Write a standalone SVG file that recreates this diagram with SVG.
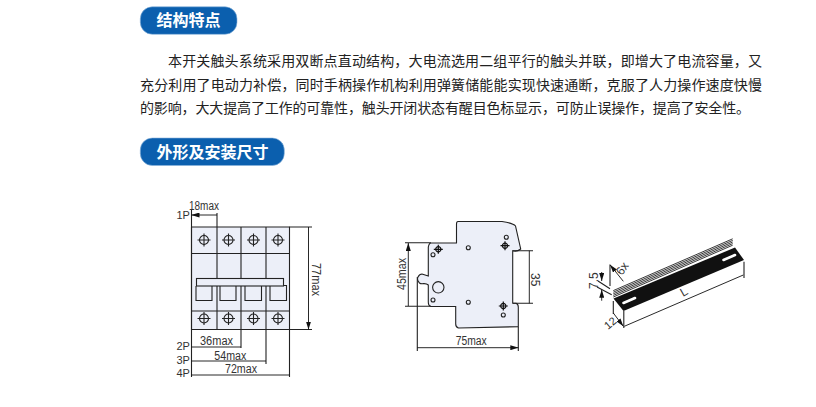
<svg xmlns="http://www.w3.org/2000/svg" width="816" height="407" viewBox="0 0 816 407">
<defs>
<marker id="a" viewBox="0 0 8 5" refX="8" refY="2.500" markerWidth="8" markerHeight="5" markerUnits="userSpaceOnUse" orient="auto-start-reverse"><path d="M0 0L8 2.500L0 5Z" fill="#111"/></marker>
<marker id="e" viewBox="0 0 8 5" refX="8" refY="2.500" markerWidth="8" markerHeight="5" markerUnits="userSpaceOnUse" orient="auto"><path d="M0 0L8 2.500L0 5Z" fill="#111"/></marker>
<g id="t"><circle r="4.500" fill="none" stroke="#222" stroke-width="1.100"/><path d="M-6.500 0H6.500M0-6.500V6.500" stroke="#222" stroke-width="1.100"/></g>
<g id="t2"><circle r="2.600" fill="none" stroke="#111" stroke-width="1.200"/><path d="M-4.500 0H4.500M0-4.500V4.500" stroke="#111" stroke-width="1.200"/></g>
</defs>
<style>
.h{fill:#0b5fae;stroke:#8ab4dc;stroke-width:.6}
.ht{font:bold 16px "Noto Sans CJK SC",sans-serif;fill:#fff}
.p{font:14px "Noto Sans CJK SC",sans-serif;fill:#222}
.l{font:12px "Liberation Sans",sans-serif;fill:#333}
.q{font:11px "Liberation Sans",sans-serif;fill:#333}
.s{fill:none;stroke:#222;stroke-width:1.100}
.d{fill:none;stroke:#111;stroke-width:.9;marker-start:url(#a);marker-end:url(#a)}
.o{fill:none;stroke:#111;stroke-width:.9;marker-end:url(#e)}
.b{fill:#eceff8}
</style>
<rect width="816" height="407" fill="#fff"/>
<g id="head1"><rect class="h" x="140.300" y="6.800" width="96.700" height="27.500" rx="12"/><text class="ht" x="156.500" y="26">结构特点</text></g>
<g id="para" class="p">
<text x="168" y="65.500" textLength="594">本开关触头系统采用双断点直动结构，大电流选用二组平行的触头并联，即增大了电流容量，又</text>
<text x="140" y="90" textLength="622">充分利用了电动力补偿，同时手柄操作机构利用弹簧储能能实现快速通断，克服了人力操作速度快慢</text>
<text x="140" y="113" textLength="610">的影响，大大提高了工作的可靠性，触头开闭状态有醒目色标显示，可防止误操作，提高了安全性。</text>
</g>
<g id="head2"><rect class="h" x="140.300" y="138" width="144" height="27.500" rx="12"/><text class="ht" x="156.500" y="158">外形及安装尺寸</text></g>

<g id="breaker">
<rect class="b" x="191.500" y="227" width="98" height="102.500"/>
<path class="s" d="M191.500 227H289.500V329.500H191.500ZM191.500 253.500H289.500M191.500 311H289.500M217 227V278M241 227V278M266 227V278M217 286V329.500M241 286V329.500M266 286V329.500"/>
<path class="s" d="M196 286V300.500H212V286M220 286V300.500H236V286M245 286V300.500H261.500V286M270 286V300.500H286.500V285.500H283.500"/>
<rect x="196.500" y="278.500" width="87" height="7.500" fill="#eceff8" stroke="#222" stroke-width="1.100"/>
<use href="#t" x="204" y="240"/><use href="#t" x="228.500" y="240"/><use href="#t" x="253.500" y="240"/><use href="#t" x="278" y="240"/>
<use href="#t" x="204" y="318.500"/><use href="#t" x="228.500" y="318.500"/><use href="#t" x="253.500" y="318.500"/><use href="#t" x="278" y="318.500"/>
<path class="s" d="M191.500 210V377M217 213V227M241 329.500V348M266 329.500V364M289.500 329.500V377M289.500 227H312M289.500 329.500H312"/>
<path class="d" d="M191.500 215H217M191.500 347H241M191.500 361H266M191.500 375H289.500M308.500 227V329.500"/>
<text class="l" x="189" y="210" textLength="30" lengthAdjust="spacingAndGlyphs">18max</text>
<text class="q" x="176.500" y="219">1P</text><text class="q" x="176.500" y="350">2P</text><text class="q" x="176.500" y="363.500">3P</text><text class="q" x="176.500" y="376.500">4P</text>
<text class="l" x="200" y="345" textLength="33" lengthAdjust="spacingAndGlyphs">36max</text>
<text class="l" x="214.300" y="360" textLength="32" lengthAdjust="spacingAndGlyphs">54max</text>
<text class="l" x="225" y="373" textLength="32" lengthAdjust="spacingAndGlyphs">72max</text>
<text class="l" transform="translate(311.500,263) rotate(90)" textLength="33" lengthAdjust="spacingAndGlyphs">77max</text>
</g>

<g id="side">
<path class="b" stroke="#222" stroke-width="1.100" d="M458 221.500H502C509 222.500 514 224 515.500 226L520.700 249C517 252 515 251.500 512.700 250.700V303.300H516C518 304 518.300 305 518.300 307V326.700L458.500 328C456.500 327.500 455.700 326 455.700 324V306.500H431C429 306 428.300 304 428.300 302V285C425 282 422 285 419.500 283C417.500 281 417 279 418 277C419 275 420 274 422 274L428.300 276V247C428.800 244.500 430 243 431 243H456.500V224C456.500 222.500 457 221.500 458 221.500Z"/>
<circle cx="438.300" cy="287.300" r="5.700" fill="none" stroke="#222" stroke-width="1.100"/>
<circle cx="433" cy="254.700" r="2" fill="none" stroke="#222" stroke-width="1.100"/><circle cx="433" cy="300" r="2" fill="none" stroke="#222" stroke-width="1.100"/><circle cx="468.300" cy="247.700" r="2" fill="none" stroke="#222" stroke-width="1.100"/><circle cx="468.300" cy="302.300" r="2" fill="none" stroke="#222" stroke-width="1.100"/><circle cx="506.300" cy="237.300" r="2" fill="none" stroke="#222" stroke-width="1.100"/><circle cx="503.300" cy="315" r="2" fill="none" stroke="#222" stroke-width="1.100"/>
<use href="#t2" x="438.300" y="249.300"/><use href="#t2" x="505" y="245.700"/><use href="#t2" x="503.300" y="306"/>
<path class="s" d="M405 242.700H431M405 306.300H431M513 250.700H533M513 303.300H533M417.300 277V351M518.300 327V351"/>
<path class="d" d="M408.300 243V306M529.300 250.700V303.300M417.300 347.700H518.300"/>
<text class="l" transform="translate(406.300,290) rotate(-90)" textLength="32" lengthAdjust="spacingAndGlyphs">45max</text>
<text class="l" transform="translate(531,273) rotate(90)">35</text>
<text class="l" x="455.700" y="345" textLength="31" lengthAdjust="spacingAndGlyphs">75max</text>
</g>

<g id="rail">
<path fill="none" stroke="#222" stroke-width=".9" d="M613.300 290.600L732.700 238.800M613.300 292.200L732.700 240.400M613.300 293.800L732.700 242M613.300 295.400L732.700 243.600M613.300 297L732.700 245.200"/>
<path fill="#111" d="M613.500 298.500L735 247.500L744 260L623.500 311Z"/>
<path fill="none" stroke="#fff" stroke-width="2.600" stroke-linecap="round" d="M623.500 303L635 298M723.500 260L735 255"/>
<path class="s" d="M610 264.700V286M623.800 311V328M613.300 301V314M744 261.700V278"/>
<path class="s" d="M598 281L610 288.700M597 287L611.700 294.700"/>
<path class="o" d="M601.700 272V281"/><path class="o" d="M601.700 300.700V289.700"/>
<path class="d" d="M610 264.700L623.300 281.300M624.300 326.300L743.300 275M613.300 313L623.300 326.300"/>
<text class="l" transform="translate(598,289) rotate(-90)">7.5</text>
<text class="l" transform="translate(622,276) rotate(-55)">6x</text>
<text class="l" transform="translate(683,297) rotate(-30)">L</text>
<text class="q" transform="translate(608,330) rotate(-40)">12</text>
</g>
</svg>
